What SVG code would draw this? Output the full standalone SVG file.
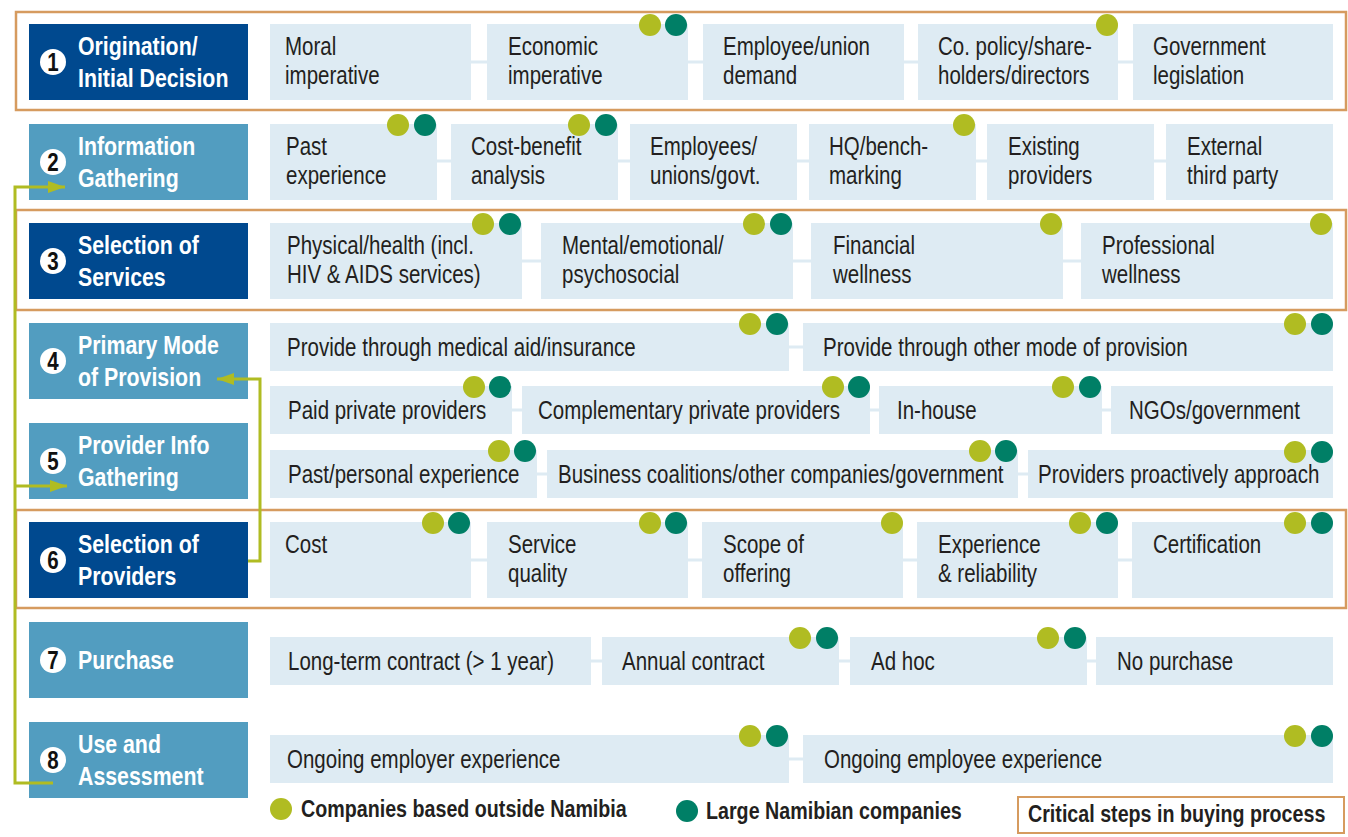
<svg xmlns="http://www.w3.org/2000/svg" width="1348" height="837" viewBox="0 0 1348 837">
<defs>
<style>
.sd{fill:#00498f}
.sm{fill:#529dc0}
.bx{fill:#deebf3}
.fr{fill:none;stroke:#d69b5f;stroke-width:2.5}
.rl{stroke:#deebf3;stroke-width:3}
.t{font-family:"Liberation Sans",Arial,sans-serif;font-size:25px;fill:#231f20}
.sl{font-family:"Liberation Sans",Arial,sans-serif;font-size:26px;font-weight:bold;fill:#fff}
.nc{fill:#fff}
.nt{font-family:"Liberation Sans",Arial,sans-serif;font-size:25px;font-weight:bold;fill:#111;text-anchor:middle}
.lg{font-family:"Liberation Sans",Arial,sans-serif;font-size:24px;font-weight:bold;fill:#231f20}
.li{fill:#b0bc22}
.te{fill:#007f66}
.cn{fill:none;stroke:#b0bc22;stroke-width:3}
</style>
<marker id="ah" markerUnits="userSpaceOnUse" viewBox="0 0 17 12" refX="17" refY="6" markerWidth="17" markerHeight="12" orient="auto">
<path d="M0,0 L17,6 L0,12 z" fill="#b0bc22"/>
</marker>
</defs>
<rect width="1348" height="837" fill="#fff"/>

<g id="frames">
<rect class="fr" x="16" y="12" width="1330" height="98"/>
<rect class="fr" x="16" y="210" width="1330" height="100"/>
<rect class="fr" x="16" y="510" width="1330" height="98"/>
</g>

<g id="row-lines">
<line class="rl" x1="270" y1="62" x2="1333" y2="62"/>
<line class="rl" x1="270" y1="161" x2="1333" y2="161"/>
<line class="rl" x1="270" y1="261" x2="1333" y2="261"/>
<line class="rl" x1="270" y1="347" x2="1333" y2="347"/>
<line class="rl" x1="270" y1="410" x2="1333" y2="410"/>
<line class="rl" x1="270" y1="474" x2="1333" y2="474"/>
<line class="rl" x1="270" y1="560" x2="1333" y2="560"/>
<line class="rl" x1="270" y1="661" x2="1333" y2="661"/>
<line class="rl" x1="270" y1="759" x2="1333" y2="759"/>
</g>

<!-- Steps -->
<g id="step1"><rect class="sd" x="29" y="24" width="219" height="76"/><circle class="nc" cx="53" cy="62" r="13"/><text class="nt" transform="translate(53,71) scale(.82 1)">1</text><text class="sl" transform="translate(78,55) scale(.82 1)"><tspan x="0" y="0">Origination/</tspan><tspan x="0" y="32">Initial Decision</tspan></text></g>
<g id="step2"><rect class="sm" x="29" y="124" width="219" height="76"/><circle class="nc" cx="53" cy="162" r="13"/><text class="nt" transform="translate(53,171) scale(.82 1)">2</text><text class="sl" transform="translate(78,155) scale(.82 1)"><tspan x="0" y="0">Information</tspan><tspan x="0" y="32">Gathering</tspan></text></g>
<g id="step3"><rect class="sd" x="29" y="223" width="219" height="76"/><circle class="nc" cx="53" cy="261" r="13"/><text class="nt" transform="translate(53,270) scale(.82 1)">3</text><text class="sl" transform="translate(78,254) scale(.82 1)"><tspan x="0" y="0">Selection of</tspan><tspan x="0" y="32">Services</tspan></text></g>
<g id="step4"><rect class="sm" x="29" y="323" width="219" height="76"/><circle class="nc" cx="53" cy="361" r="13"/><text class="nt" transform="translate(53,370) scale(.82 1)">4</text><text class="sl" transform="translate(78,354) scale(.82 1)"><tspan x="0" y="0">Primary Mode</tspan><tspan x="0" y="32">of Provision</tspan></text></g>
<g id="step5"><rect class="sm" x="29" y="423" width="219" height="76"/><circle class="nc" cx="53" cy="461" r="13"/><text class="nt" transform="translate(53,470) scale(.82 1)">5</text><text class="sl" transform="translate(78,454) scale(.82 1)"><tspan x="0" y="0">Provider Info</tspan><tspan x="0" y="32">Gathering</tspan></text></g>
<g id="step6"><rect class="sd" x="29" y="522" width="219" height="76"/><circle class="nc" cx="53" cy="560" r="13"/><text class="nt" transform="translate(53,569) scale(.82 1)">6</text><text class="sl" transform="translate(78,553) scale(.82 1)"><tspan x="0" y="0">Selection of</tspan><tspan x="0" y="32">Providers</tspan></text></g>
<g id="step7"><rect class="sm" x="29" y="622" width="219" height="76"/><circle class="nc" cx="53" cy="660" r="13"/><text class="nt" transform="translate(53,669) scale(.82 1)">7</text><text class="sl" transform="translate(78,669) scale(.82 1)">Purchase</text></g>
<g id="step8"><rect class="sm" x="29" y="722" width="219" height="76"/><circle class="nc" cx="53" cy="760" r="13"/><text class="nt" transform="translate(53,769) scale(.82 1)">8</text><text class="sl" transform="translate(78,753) scale(.82 1)"><tspan x="0" y="0">Use and</tspan><tspan x="0" y="32">Assessment</tspan></text></g>

<!-- Row 1 -->
<g id="r1-moral"><rect class="bx" x="270" y="24" width="201" height="76"/><text class="t" transform="translate(285,55) scale(.82 1)"><tspan x="0" y="0">Moral</tspan><tspan x="0" y="29">imperative</tspan></text></g>
<g id="r1-economic"><rect class="bx" x="487" y="24" width="201" height="76"/><text class="t" transform="translate(508,55) scale(.82 1)"><tspan x="0" y="0">Economic</tspan><tspan x="0" y="29">imperative</tspan></text><circle class="li" cx="650" cy="25" r="11"/><circle class="te" cx="676" cy="25" r="11"/></g>
<g id="r1-employee"><rect class="bx" x="703" y="24" width="201" height="76"/><text class="t" transform="translate(723,55) scale(.82 1)"><tspan x="0" y="0">Employee/union</tspan><tspan x="0" y="29">demand</tspan></text></g>
<g id="r1-policy"><rect class="bx" x="918" y="24" width="200" height="76"/><text class="t" transform="translate(938,55) scale(.82 1)"><tspan x="0" y="0">Co. policy/share-</tspan><tspan x="0" y="29">holders/directors</tspan></text><circle class="li" cx="1107" cy="25" r="11"/></g>
<g id="r1-govt"><rect class="bx" x="1133" y="24" width="200" height="76"/><text class="t" transform="translate(1153,55) scale(.82 1)"><tspan x="0" y="0">Government</tspan><tspan x="0" y="29">legislation</tspan></text></g>

<!-- Row 2 -->
<g id="r2-past"><rect class="bx" x="270" y="124" width="167" height="76"/><text class="t" transform="translate(286,155) scale(.82 1)"><tspan x="0" y="0">Past</tspan><tspan x="0" y="29">experience</tspan></text><circle class="li" cx="398" cy="125" r="11"/><circle class="te" cx="425" cy="125" r="11"/></g>
<g id="r2-cba"><rect class="bx" x="451" y="124" width="167" height="76"/><text class="t" transform="translate(471,155) scale(.82 1)"><tspan x="0" y="0">Cost-benefit</tspan><tspan x="0" y="29">analysis</tspan></text><circle class="li" cx="579" cy="125" r="11"/><circle class="te" cx="606" cy="125" r="11"/></g>
<g id="r2-emp"><rect class="bx" x="630" y="124" width="167" height="76"/><text class="t" transform="translate(650,155) scale(.82 1)"><tspan x="0" y="0">Employees/</tspan><tspan x="0" y="29">unions/govt.</tspan></text></g>
<g id="r2-hq"><rect class="bx" x="809" y="124" width="167" height="76"/><text class="t" transform="translate(829,155) scale(.82 1)"><tspan x="0" y="0">HQ/bench-</tspan><tspan x="0" y="29">marking</tspan></text><circle class="li" cx="964" cy="125" r="11"/></g>
<g id="r2-existing"><rect class="bx" x="987" y="124" width="167" height="76"/><text class="t" transform="translate(1008,155) scale(.82 1)"><tspan x="0" y="0">Existing</tspan><tspan x="0" y="29">providers</tspan></text></g>
<g id="r2-external"><rect class="bx" x="1166" y="124" width="167" height="76"/><text class="t" transform="translate(1187,155) scale(.82 1)"><tspan x="0" y="0">External</tspan><tspan x="0" y="29">third party</tspan></text></g>

<!-- Row 3 -->
<g id="r3-physical"><rect class="bx" x="270" y="223" width="252" height="76"/><text class="t" transform="translate(287,254) scale(.82 1)"><tspan x="0" y="0">Physical/health (incl.</tspan><tspan x="0" y="29">HIV &amp; AIDS services)</tspan></text><circle class="li" cx="483" cy="224" r="11"/><circle class="te" cx="510" cy="224" r="11"/></g>
<g id="r3-mental"><rect class="bx" x="541" y="223" width="252" height="76"/><text class="t" transform="translate(562,254) scale(.82 1)"><tspan x="0" y="0">Mental/emotional/</tspan><tspan x="0" y="29">psychosocial</tspan></text><circle class="li" cx="754" cy="224" r="11"/><circle class="te" cx="781" cy="224" r="11"/></g>
<g id="r3-financial"><rect class="bx" x="811" y="223" width="252" height="76"/><text class="t" transform="translate(833,254) scale(.82 1)"><tspan x="0" y="0">Financial</tspan><tspan x="0" y="29">wellness</tspan></text><circle class="li" cx="1051" cy="224" r="11"/></g>
<g id="r3-professional"><rect class="bx" x="1081" y="223" width="252" height="76"/><text class="t" transform="translate(1102,254) scale(.82 1)"><tspan x="0" y="0">Professional</tspan><tspan x="0" y="29">wellness</tspan></text><circle class="li" cx="1321" cy="224" r="11"/></g>

<!-- Row 4 -->
<g id="r4-medical"><rect class="bx" x="270" y="323" width="519" height="48"/><text class="t" transform="translate(287,356) scale(.82 1)">Provide through medical aid/insurance</text><circle class="li" cx="750" cy="324" r="11"/><circle class="te" cx="777" cy="324" r="11"/></g>
<g id="r4-other"><rect class="bx" x="803" y="323" width="530" height="48"/><text class="t" transform="translate(823,356) scale(.82 1)">Provide through other mode of provision</text><circle class="li" cx="1295" cy="324" r="11"/><circle class="te" cx="1322" cy="324" r="11"/></g>
<g id="r4-paid"><rect class="bx" x="270" y="386" width="242" height="48"/><text class="t" transform="translate(288,419) scale(.82 1)">Paid private providers</text><circle class="li" cx="474" cy="387" r="11"/><circle class="te" cx="500" cy="387" r="11"/></g>
<g id="r4-compl"><rect class="bx" x="522" y="386" width="348" height="48"/><text class="t" transform="translate(538,419) scale(.82 1)">Complementary private providers</text><circle class="li" cx="833" cy="387" r="11"/><circle class="te" cx="859" cy="387" r="11"/></g>
<g id="r4-inhouse"><rect class="bx" x="879" y="386" width="223" height="48"/><text class="t" transform="translate(897,419) scale(.82 1)">In-house</text><circle class="li" cx="1063" cy="387" r="11"/><circle class="te" cx="1090" cy="387" r="11"/></g>
<g id="r4-ngo"><rect class="bx" x="1111" y="386" width="222" height="48"/><text class="t" transform="translate(1129,419) scale(.82 1)">NGOs/government</text></g>

<!-- Row 5 -->
<g id="r5-past"><rect class="bx" x="270" y="450" width="267" height="48"/><text class="t" transform="translate(288,483) scale(.82 1)">Past/personal experience</text><circle class="li" cx="499" cy="451" r="11"/><circle class="te" cx="525" cy="451" r="11"/></g>
<g id="r5-business"><rect class="bx" x="547" y="450" width="471" height="48"/><text class="t" transform="translate(558,483) scale(.82 1)">Business coalitions/other companies/government</text><circle class="li" cx="980" cy="451" r="11"/><circle class="te" cx="1006" cy="451" r="11"/></g>
<g id="r5-proactive"><rect class="bx" x="1028" y="450" width="305" height="48"/><text class="t" transform="translate(1038,483) scale(.82 1)">Providers proactively approach</text><circle class="li" cx="1295" cy="452" r="11"/><circle class="te" cx="1322" cy="452" r="11"/></g>

<!-- Row 6 -->
<g id="r6-cost"><rect class="bx" x="270" y="522" width="201" height="76"/><text class="t" transform="translate(285,553) scale(.82 1)">Cost</text><circle class="li" cx="433" cy="523" r="11"/><circle class="te" cx="459" cy="523" r="11"/></g>
<g id="r6-quality"><rect class="bx" x="487" y="522" width="201" height="76"/><text class="t" transform="translate(508,553) scale(.82 1)"><tspan x="0" y="0">Service</tspan><tspan x="0" y="29">quality</tspan></text><circle class="li" cx="650" cy="523" r="11"/><circle class="te" cx="676" cy="523" r="11"/></g>
<g id="r6-scope"><rect class="bx" x="702" y="522" width="201" height="76"/><text class="t" transform="translate(723,553) scale(.82 1)"><tspan x="0" y="0">Scope of</tspan><tspan x="0" y="29">offering</tspan></text><circle class="li" cx="892" cy="523" r="11"/></g>
<g id="r6-experience"><rect class="bx" x="917" y="522" width="201" height="76"/><text class="t" transform="translate(938,553) scale(.82 1)"><tspan x="0" y="0">Experience</tspan><tspan x="0" y="29">&amp; reliability</tspan></text><circle class="li" cx="1080" cy="523" r="11"/><circle class="te" cx="1107" cy="523" r="11"/></g>
<g id="r6-cert"><rect class="bx" x="1132" y="522" width="201" height="76"/><text class="t" transform="translate(1153,553) scale(.82 1)">Certification</text><circle class="li" cx="1295" cy="523" r="11"/><circle class="te" cx="1322" cy="523" r="11"/></g>

<!-- Row 7 -->
<g id="r7-long"><rect class="bx" x="270" y="637" width="321" height="48"/><text class="t" transform="translate(288,670) scale(.82 1)">Long-term contract (&gt; 1 year)</text></g>
<g id="r7-annual"><rect class="bx" x="602" y="637" width="237" height="48"/><text class="t" transform="translate(622,670) scale(.82 1)">Annual contract</text><circle class="li" cx="800" cy="638" r="11"/><circle class="te" cx="827" cy="638" r="11"/></g>
<g id="r7-adhoc"><rect class="bx" x="850" y="637" width="237" height="48"/><text class="t" transform="translate(871,670) scale(.82 1)">Ad hoc</text><circle class="li" cx="1048" cy="638" r="11"/><circle class="te" cx="1075" cy="638" r="11"/></g>
<g id="r7-none"><rect class="bx" x="1096" y="637" width="237" height="48"/><text class="t" transform="translate(1117,670) scale(.82 1)">No purchase</text></g>

<!-- Row 8 -->
<g id="r8-employer"><rect class="bx" x="270" y="735" width="519" height="48"/><text class="t" transform="translate(287,768) scale(.82 1)">Ongoing employer experience</text><circle class="li" cx="750" cy="736" r="11"/><circle class="te" cx="777" cy="736" r="11"/></g>
<g id="r8-employee"><rect class="bx" x="803" y="735" width="530" height="48"/><text class="t" transform="translate(824,768) scale(.82 1)">Ongoing employee experience</text><circle class="li" cx="1295" cy="736" r="11"/><circle class="te" cx="1322" cy="736" r="11"/></g>

<g id="connectors">
<path class="cn" d="M53,783 H15 V187 H65" marker-end="url(#ah)"/>
<path class="cn" d="M15,486 H67" marker-end="url(#ah)"/>
<path class="cn" d="M248,561 H260 V379 H217" marker-end="url(#ah)"/>
</g>

<g id="legend">
<circle class="li" cx="281" cy="809" r="11"/>
<text class="lg" transform="translate(301,817) scale(.82 1)">Companies based outside Namibia</text>
<circle class="te" cx="687" cy="811" r="11"/>
<text class="lg" transform="translate(706,819) scale(.82 1)">Large Namibian companies</text>
<rect x="1018" y="797" width="326" height="36" fill="#fff" stroke="#d69b5f" stroke-width="2"/>
<text class="lg" transform="translate(1028,822) scale(.82 1)">Critical steps in buying process</text>
</g>
</svg>
